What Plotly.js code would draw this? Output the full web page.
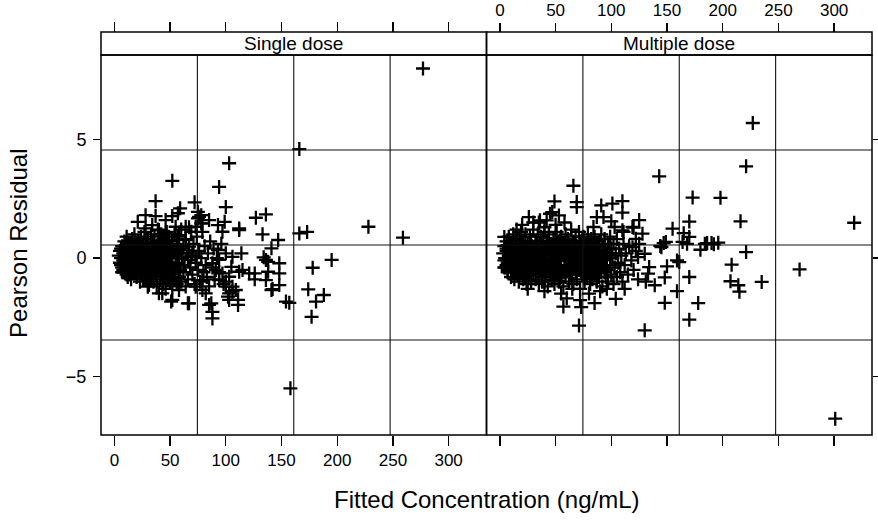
<!DOCTYPE html>
<html><head><meta charset="utf-8">
<script src="https://cdn.plot.ly/plotly-3.0.1.min.js"></script>
<style>html,body{margin:0;padding:0;background:#fff}#chart{width:878px;height:523px}</style>
</head><body><div id="chart"></div>
<script>
// ---- Panel labels / axis labels ----
const panelNames = ['Single dose', 'Multiple dose'];
const xTitle = 'Fitted Concentration (ng/mL)';
const yTitle = 'Pearson Residual';
const xTickVals = [0, 50, 100, 150, 200, 250, 300];
const yTickVals = [-5, 0, 5];

// ---- Single dose: dense core ----
const singleCoreX = [4,5,5,6,7,7,8,8,9,9,10,10,11,11,12,12,13,13,14,14,15,15,16,16,17,17,18,18,19,19,20,20,21,21,22,22,23,23,24,24,25,25,26,26,27,27,28,28,29,29,30,30,31,31,32,32,33,33,34,34,35,35,36,36,37,37,38,38,39,39,40,40,41,41,42,42,43,43,44,44,45,45,46,46,47,47,48,48,49,49,50,50,51,51,52,52,53,53,54,54,55,55,56,56,57,57,58,58,59,59,60,60,61,62,62,63,64,64,65,66,67,68,69,70,71,72,73,74,75,76,77,78,79,80,81,82,83,84,85,86,88,89,90,92,94,96,98];
const singleCoreY = [0.1,-0.2,0.3,0.0,-0.4,0.5,0.2,-0.1,-0.6,0.7,0.3,-0.3,0.0,0.9,-0.8,0.5,-0.2,0.2,0.6,-0.5,0.1,-0.9,0.8,-0.3,0.3,-0.6,0.0,1.0,-0.4,0.5,-0.1,-0.8,0.7,0.2,-0.5,0.4,-1.0,0.0,0.9,-0.3,0.3,-0.7,0.6,-0.1,-0.5,1.1,0.2,-0.9,0.5,-0.2,-0.6,0.8,0.0,-1.1,0.4,-0.4,1.0,-0.8,0.1,0.6,-0.3,-1.0,0.3,0.9,-0.6,0.0,0.5,-1.2,-0.2,1.2,0.7,-0.5,0.2,-0.9,-0.1,1.0,0.4,-0.7,-1.1,0.8,0.0,-0.4,0.5,-1.3,-0.8,1.1,0.2,-0.2,0.9,-0.6,-1.0,0.4,0.0,-0.3,0.7,-1.2,-0.6,0.3,1.0,-0.9,0.1,-0.4,0.6,-1.1,-0.2,0.9,0.4,-0.8,-0.5,0.2,1.2,-1.0,0.0,-0.6,0.5,-0.3,0.8,-1.2,0.2,-0.9,1.3,-0.4,0.1,-0.7,0.6,-1.1,-0.2,0.9,-0.5,0.3,-1.0,0.0,1.1,-0.6,0.5,-0.3,-0.8,0.2,-1.2,0.7,-0.4,0.4,-0.9,0.0,-0.6,0.6,-1.1];
const singleDenseX = [6,7,8,9,10,11,12,13,14,15,16,17,18,19,20,21,22,23,24,25,26,27,28,29,30,31,32,33,34,35,36,37,38,39,40,41,42,43,44,45,46,47,48,49,50,6,8,10,12,14,16,18,20,22,24,26,28,30,32,34,36,38,40,42,44,46,48,50,52,7,9,11,13,15,17,19,21,23,25,27,29,31,33,35,37,39,41,43,45,47,49,51,53];
const singleDenseY = [-0.3,0.4,-0.6,0.1,0.5,-0.7,0.2,0.6,-0.4,0.3,-0.1,0.5,-0.6,0.2,0.6,-0.4,0.0,-0.7,0.3,0.5,-0.5,0.2,-0.3,0.6,0.1,-0.6,0.4,-0.2,-0.5,0.6,0.0,0.3,-0.7,0.5,-0.3,0.6,-0.6,0.1,-0.2,0.4,-0.5,0.3,-0.7,0.2,0.0,0.4,-0.5,0.2,-0.2,-0.7,0.0,0.3,-0.6,0.6,-0.1,0.2,-0.4,0.4,0.0,-0.6,0.5,0.0,-0.2,0.6,-0.6,0.2,0.5,-0.3,0.1,-0.6,0.0,0.4,-0.5,0.6,-0.1,0.1,-0.3,0.4,-0.6,0.0,-0.5,0.3,-0.2,0.7,-0.4,0.0,-0.3,-0.8,0.6,0.0,-0.4,0.5,-0.7];
const singleExtraX = [10,12,14,18,22,26,30,34,20,16,24,28,32,36,40,44,48,52,56,20,26,38,42];
const singleExtraY = [-0.5,0.1,0.2,-0.5,-0.2,0.1,0.2,-0.6,0.4,0.4,0.5,0.6,-0.8,-0.3,0.1,0.3,-0.9,-0.4,0.2,-0.5,-0.9,0.2,-0.4];
// ---- Single dose: scattered points ----
const singleOutX = [277,166,103,52,94,37,72,59,100,127,136,112,133,147,166,173,228,259,141,195,178,148,148,136,138,136,126,126,114,112,148,141,154,157,174,181,188,177,88,88,111,103,106,100,66,51,30,40,82,87,158,134,138,142,21,28,37,46,52,57,28,34,40,64,69,76,79,85,93,99,97,55,112,106,105,115,121,103,100,106,103,109,111,102,85,67,52,58,43,31,28,79,73,79,94,97,91,88,94,100,93,75,78,75,78,73,64,67,61,70,58,66,73,52,46,58,49];
const singleOutY = [8.0,4.6,4.0,3.26,3.0,2.4,2.35,2.1,2.15,1.7,1.84,1.25,1.0,0.76,1.04,1.1,1.32,0.86,0.41,-0.08,-0.41,-0.22,-0.65,-0.08,-0.58,-0.93,-0.65,-0.9,0.2,-0.58,-1.14,-1.35,-1.84,-1.89,-1.32,-1.84,-1.56,-2.48,-2.55,-2.27,-1.98,-1.77,-1.42,-1.21,-1.91,-1.84,-1.21,-1.49,-1.49,-1.91,-5.5,0.03,-0.16,-1.31,1.53,1.81,1.77,1.6,1.77,1.89,1.25,1.39,1.18,1.32,1.11,1.74,1.46,1.6,1.39,1.53,1.11,1.32,1.18,0.05,-0.37,-0.5,-0.65,-0.79,-1.0,-1.21,-1.49,-1.35,-1.77,-1.63,-1.98,-1.91,-1.77,-1.35,-1.49,-1.14,-0.93,-1.35,-1.21,-0.93,-0.93,-0.65,-0.5,-0.22,-0.08,0.2,0.34,1.95,1.81,1.67,1.46,1.32,0.76,0.48,0.34,0.2,0.05,-0.08,0.05,0.76,1.04,0.97,0.55];

// ---- Multiple dose: dense core ----
const multiCoreX = [3,4,4,5,5,6,6,7,7,8,8,9,9,10,10,11,11,12,12,13,13,14,14,15,15,16,16,17,17,18,18,19,19,20,20,21,21,22,22,23,23,24,24,25,25,26,26,27,27,28,28,29,29,30,30,31,31,32,32,33,33,34,34,35,35,36,36,37,37,38,38,39,39,40,40,41,41,42,42,43,43,44,44,45,45,46,46,47,47,48,48,49,49,50,50,51,51,52,52,53,53,54,54,55,55,56,56,57,57,58,58,59,59,60,60,61,61,62,62,63,63,64,64,65,65,66,66,67,67,68,68,69,69,70,70,71,71,72,72,73,73,74,74,75,75,76,76,77,77,78,78,79,79,80,80,81,81,82,82,83,83,84,84,85,85,86,86,87,87,88,88,89,89,90,90,91,91,92,92,93,93,94,94,95,95,96,96,97,97,98,99,99,100,100,101,102,102,103,104,105,105,106,107,108,109,110,111,112,113,115,116,118,120,122,124];
const multiCoreY = [0.2,-0.1,0.5,0.0,-0.4,0.7,0.3,-0.2,-0.6,0.1,0.9,-0.3,0.4,-0.8,0.0,0.6,-0.5,0.2,1.0,-0.1,-0.9,0.5,0.1,-0.4,0.8,-0.7,0.3,0.0,-1.0,0.6,-0.2,1.1,-0.6,0.2,-0.3,0.7,-0.9,0.0,0.4,-0.5,1.0,0.1,-1.1,0.6,-0.2,-0.7,0.3,0.9,-0.4,0.0,-1.0,0.5,-0.3,1.2,-0.7,0.2,-0.1,0.7,-0.9,-0.4,0.4,1.0,-0.1,0.1,-1.1,0.6,-0.5,-0.2,0.9,0.3,-0.8,-0.3,0.5,1.1,-1.0,0.0,-0.6,0.7,0.2,-0.3,-1.2,0.4,1.0,-0.7,0.1,0.6,-0.2,-0.9,0.3,0.8,-0.5,0.0,-1.1,0.5,-0.3,1.1,-0.7,0.2,-0.1,0.7,-1.0,-0.4,0.4,0.9,0.0,-0.6,0.3,-1.2,0.6,0.1,-0.3,1.0,-0.8,0.4,-0.1,-0.5,0.8,0.0,-1.0,0.5,-0.3,1.2,-0.7,0.2,-0.2,0.7,-1.1,-0.4,0.3,0.9,-0.6,0.0,-0.9,0.5,-0.2,1.1,-0.5,0.2,-1.3,0.7,-0.1,-0.7,0.4,0.9,-0.3,0.1,-1.0,0.6,-0.4,-0.8,0.3,1.0,0.0,-0.6,0.5,-0.2,-1.1,0.8,0.2,-0.4,-0.9,0.4,0.0,-0.7,0.9,0.2,-0.3,-1.0,0.6,0.0,-0.5,0.7,-0.8,0.3,-0.2,-0.6,1.0,0.1,-1.2,0.5,-0.4,-0.1,0.8,-0.8,0.3,0.0,-0.5,0.6,-1.0,0.2,-0.3,0.9,-0.7,0.4,0.0,-1.1,0.6,-0.4,0.2,-0.8,0.8,-0.2,0.4,-0.6,0.1,-1.0,0.6,-0.3,0.2,-0.7,0.5,-0.1,-0.5,0.3,-0.9];
const multiDenseX = [5,7,9,11,13,15,17,19,21,23,25,27,29,31,33,35,37,39,41,43,45,47,49,51,53,55,57,59,61,63,65,67,69,71,73,75,77,79,81,83,85,87,89,91,93,95,6,8,10,12,14,16,18,20,22,24,26,28,30,32,34,36,38,40,42,44,46,48,50,52,54,56,58,60,62,64,66,68,70,72,74,76,78,80,82,84,86,88,90,4,9,14,19,24,29,34,39,44,49,54,59,64,69,74,79,84,89,94,99];
const multiDenseY = [0.0,-0.5,0.6,-0.2,0.3,-0.6,0.1,0.5,-0.4,0.2,-0.7,0.4,0.0,-0.3,0.6,-0.5,0.2,0.7,-0.2,0.4,-0.6,0.0,0.5,-0.4,0.1,-0.7,0.3,0.6,-0.1,-0.5,0.4,0.0,-0.6,0.3,0.6,-0.2,-0.5,0.2,0.5,-0.4,0.1,-0.6,0.3,0.0,-0.3,0.2,0.4,-0.2,0.2,-0.6,0.7,-0.1,0.3,-0.4,0.5,-0.6,0.1,0.3,-0.5,0.5,-0.2,0.0,-0.6,0.3,0.6,-0.3,0.2,-0.7,-0.1,0.6,-0.4,0.3,-0.6,0.0,0.5,0.1,-0.3,0.6,0.2,-0.4,0.0,-0.7,0.4,-0.2,0.1,0.6,-0.5,0.3,-0.1,-0.4,0.0,-0.3,0.1,0.3,-0.1,0.2,0.1,0.6,-0.2,0.0,0.4,0.0,0.3,-0.5,0.5,-0.2,0.1,-0.6,0.1];
const multiExtraX = [10,15,20,25,30,35,40,45,50,55,60,65,18,28,38,48,58,68,78,88,12,22,32,42,52,62,72,82,92,6,25,40,55,65,80,90,96,60,85,20,30,40,50,15];
const multiExtraY = [0.5,0.3,-0.6,0.4,0.0,-0.6,0.4,-0.4,0.8,-0.8,0.7,-0.5,0.9,0.7,-1.0,0.2,0.6,0.4,-0.3,0.5,-0.5,-0.8,0.3,-0.4,0.5,0.5,0.6,-0.6,0.5,-0.3,-1.3,-1.4,-1.5,-1.3,-1.5,-1.4,-1.3,-1.7,-1.9,1.4,1.5,1.3,1.4,1.2];
// ---- Multiple dose: scattered points ----
const multiOutX = [227,221,143,66,173,198,49,69,69,91,101,110,110,26,35,45,58,87,93,100,125,170,216,318,155,165,170,147,145,184,190,196,180,221,208,269,159,150,170,148,207,214,215,235,159,148,178,170,130,71,57,301,72,73,47,53,36,42,103,110,119,84,4,7,120,111,128,122,125,119,130,124,144,149,164,168,186,192,161,134,133,139,131,112,104];
const multiOutY = [5.7,3.87,3.45,3.05,2.55,2.54,2.39,2.36,2.15,2.22,2.3,2.4,1.92,1.73,1.5,1.87,1.5,1.73,1.73,1.55,1.6,1.54,1.55,1.49,1.24,1.05,0.89,0.63,0.46,0.6,0.63,0.65,0.35,0.25,-0.28,-0.48,-0.1,-0.35,-0.8,-0.82,-0.98,-1.15,-1.42,-1.01,-1.4,-1.89,-1.9,-2.6,-3.05,-2.85,-2.05,-6.78,-1.78,-2.07,1.94,1.8,1.59,1.59,1.31,1.17,1.31,1.31,0.89,0.54,1.28,1.1,1.03,0.81,0.6,0.46,0.18,0.04,0.51,0.68,0.68,0.6,0.63,0.58,-0.17,-0.38,-0.66,-1.15,-1.0,-1.3,-1.72];

const singleX = singleCoreX.concat(singleDenseX, singleExtraX, singleOutX);
const singleY = singleCoreY.concat(singleDenseY, singleExtraY, singleOutY);
const multiX = multiCoreX.concat(multiDenseX, multiExtraX, multiOutX);
const multiY = multiCoreY.concat(multiDenseY, multiExtraY, multiOutY);

// ---- Styling ----
const FONT = 'Liberation Sans, Arial, Helvetica, sans-serif';
const xRange = [-12, 334];
const yRange = [-7.47, 8.57];
const stripBottom = 380 / 403;
const marker = {symbol: 'cross-thin', size: 10, color: '#000', line: {color: '#000', width: 2.3}};

const traces = [
  {type: 'scatter', mode: 'markers', x: singleX, y: singleY, xaxis: 'x', yaxis: 'y', marker: marker, hoverinfo: 'skip', showlegend: false},
  {type: 'scatter', mode: 'markers', x: multiX, y: multiY, xaxis: 'x2', yaxis: 'y2', marker: marker, hoverinfo: 'skip', showlegend: false},
  {type: 'scatter', mode: 'markers', x: [], y: [], xaxis: 'x3', yaxis: 'y', showlegend: false},
  {type: 'scatter', mode: 'markers', x: [], y: [], xaxis: 'x4', yaxis: 'y2', showlegend: false}
];

function xAxis(extra) {
  return Object.assign({
    range: xRange, tickmode: 'array', tickvals: xTickVals,
    ticks: 'outside', ticklen: 10, tickwidth: 1.4, tickcolor: '#000',
    showgrid: false, zeroline: false, showline: false,
    tickfont: {family: FONT, size: 17, color: '#000'}, fixedrange: true
  }, extra);
}
function yAxis(extra) {
  return Object.assign({
    range: yRange, domain: [0, stripBottom], tickmode: 'array', tickvals: yTickVals,
    ticks: 'outside', ticklen: 7, tickwidth: 1.4, tickcolor: '#000',
    showgrid: false, zeroline: false, showline: false,
    tickfont: {family: FONT, size: 18, color: '#000'}, fixedrange: true
  }, extra);
}

const shapes = [];
[['x', 'y'], ['x2', 'y2']].forEach(function (p) {
  const xr = p[0] + ' domain', yr = p[1] + ' domain';
  [0.25, 0.5, 0.75].forEach(function (f) {
    shapes.push({type: 'line', xref: xr, yref: yr, x0: f, x1: f, y0: 0, y1: 1, line: {color: '#111', width: 1.1}});
    shapes.push({type: 'line', xref: xr, yref: yr, x0: 0, x1: 1, y0: f, y1: f, line: {color: '#111', width: 1.1}});
  });
  shapes.push({type: 'rect', xref: xr, yref: yr, x0: 0, x1: 1, y0: 0, y1: 1, line: {color: '#000', width: 1.5}});
});
shapes.push({type: 'rect', xref: 'paper', yref: 'paper', x0: 0, x1: 0.5, y0: stripBottom, y1: 1, line: {color: '#000', width: 1.5}});
shapes.push({type: 'rect', xref: 'paper', yref: 'paper', x0: 0.5, x1: 1, y0: stripBottom, y1: 1, line: {color: '#000', width: 1.5}});

const annotations = [
  {text: panelNames[0], xref: 'paper', yref: 'paper', x: 0.25, y: (1 + stripBottom) / 2, showarrow: false, xanchor: 'center', yanchor: 'middle', font: {family: FONT, size: 19, color: '#000'}},
  {text: panelNames[1], xref: 'paper', yref: 'paper', x: 0.75, y: (1 + stripBottom) / 2, showarrow: false, xanchor: 'center', yanchor: 'middle', font: {family: FONT, size: 19, color: '#000'}},
  {text: xTitle, xref: 'paper', yref: 'paper', x: 0.5, y: -0.161, showarrow: false, xanchor: 'center', yanchor: 'middle', font: {family: FONT, size: 24, color: '#000'}},
  {text: yTitle, xref: 'paper', yref: 'paper', x: -0.108, y: 0.476, showarrow: false, xanchor: 'center', yanchor: 'middle', textangle: -90, font: {family: FONT, size: 24, color: '#000'}}
];

const layout = {
  width: 878, height: 523,
  margin: {l: 101, r: 6, t: 32, b: 88},
  paper_bgcolor: '#fff', plot_bgcolor: '#fff',
  showlegend: false,
  xaxis: xAxis({domain: [0, 0.5], anchor: 'y', side: 'bottom'}),
  xaxis2: xAxis({domain: [0.5, 1], anchor: 'y2', side: 'bottom', showticklabels: false}),
  xaxis3: xAxis({overlaying: 'x', anchor: 'free', position: 1, side: 'top', showticklabels: false}),
  xaxis4: xAxis({overlaying: 'x2', anchor: 'free', position: 1, side: 'top', ticklen: 9, ticklabelstandoff: 0}),
  yaxis: yAxis({anchor: 'x', side: 'left', ticklabelstandoff: 3}),
  yaxis2: yAxis({anchor: 'x2', side: 'right', showticklabels: false}),
  shapes: shapes,
  annotations: annotations
};

Plotly.newPlot('chart', traces, layout, {displayModeBar: false, staticPlot: true});
</script>
</body></html>
